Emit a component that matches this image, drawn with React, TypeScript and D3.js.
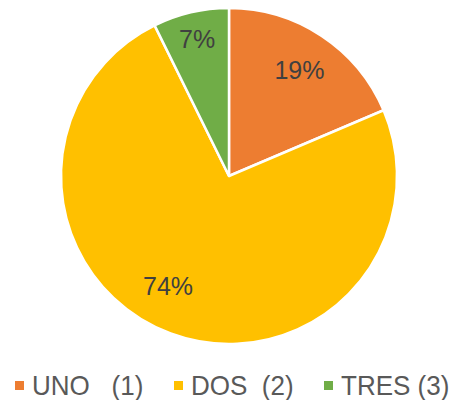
import React from "react";
import * as d3 from "d3";

const categories = ["UNO", "DOS", "TRES"];
const legendLabels = ["UNO   (1)", "DOS  (2)", "TRES (3)"];
const values = [18.6, 74.1, 7.3];
const colors = ["#ED7D31", "#FFC000", "#70AD47"];

// label placement (fraction of radius, angular nudge in radians) mimicking Excel best-fit
const labelRadiusFrac = [0.76, 0.75, 0.835];
const labelAngleNudge = [0, 0.15, 0];
const legendX = [15, 174, 324];

export default function App() {
  const W = 453;
  const H = 400;
  const cx = 229;
  const cy = 176;
  const r = 168;

  const total = d3.sum(values);
  const pie = d3.pie<number>().sort(null).value((d) => d)(values);
  const arc = d3.arc<d3.PieArcDatum<number>>().innerRadius(0).outerRadius(r);

  return (
    <svg
      width={W}
      height={H}
      style={{ position: "absolute", left: 0, top: 0, fontFamily: "'Liberation Sans', Arial, sans-serif" }}
    >
      <rect width={W} height={H} fill="#fff" />
      <g transform={`translate(${cx},${cy})`}>
        {pie.map((p, i) => (
          <path key={categories[i]} d={arc(p) || ""} fill={colors[i]} stroke="#fff" strokeWidth={2.5} strokeLinejoin="round" />
        ))}
        {pie.map((p, i) => {
          const a = (p.startAngle + p.endAngle) / 2 + labelAngleNudge[i];
          const rr = r * labelRadiusFrac[i];
          const x = Math.sin(a) * rr;
          const y = -Math.cos(a) * rr;
          return (
            <text key={"l" + i} x={x} y={y} dy="0.36em" textAnchor="middle" fontSize={25} fill="#404040">
              {`${Math.round((values[i] / total) * 100)}%`}
            </text>
          );
        })}
      </g>
      <g>
        {categories.map((c, i) => (
          <g key={"lg" + c}>
            <rect x={legendX[i]} y={381} width={9} height={9} fill={colors[i]} />
            <text
              transform={`translate(${legendX[i] + 17},395) scale(0.93,1)`}
              fontSize={28}
              fill="#595959"
              style={{ whiteSpace: "pre" }}
            >
              {legendLabels[i]}
            </text>
          </g>
        ))}
      </g>
    </svg>
  );
}
